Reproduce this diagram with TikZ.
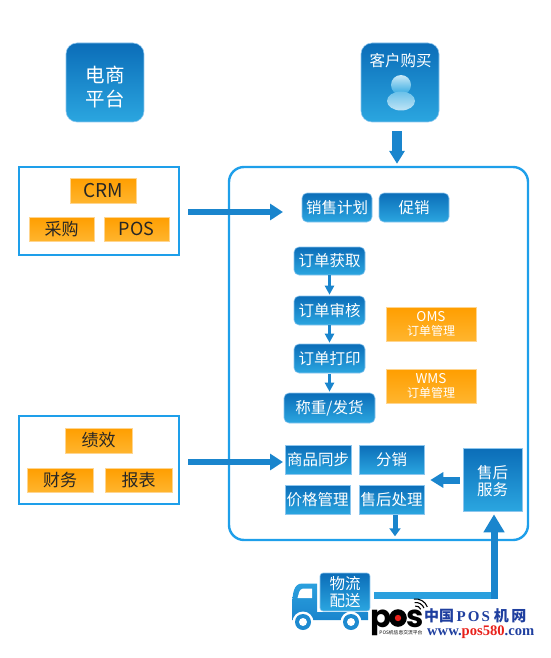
\documentclass[tikz,border=0pt]{standalone}
\usepackage{fontspec}
\setmainfont{Noto Sans CJK SC}
\newfontfamily\logosans{Poppins}[BoldFont=Poppins Bold]
\newfontfamily\logoserif{Liberation Serif}
\usetikzlibrary{arrows.meta,calc}
\definecolor{btop}{HTML}{0B6DB8}
\definecolor{bbot}{HTML}{2BA6E0}
\definecolor{bline}{HTML}{8CC6EE}
\definecolor{otop}{HTML}{FF9E00}
\definecolor{obot}{HTML}{FFB52E}
\definecolor{oline}{HTML}{FFD58F}
\definecolor{frame}{HTML}{1E9FEA}
\definecolor{arrowc}{HTML}{1A85CD}
\definecolor{armlight}{HTML}{2BA0DE}
\definecolor{logoblue}{HTML}{1F3F9F}
\definecolor{logored}{HTML}{E8201A}
\newcommand{\fs}[1]{\fontsize{#1}{#1}\selectfont}
\tikzset{
  x=1pt,y=1pt,
  bluebox/.style={draw=bline,line width=.6pt,top color=btop,bottom color=bbot,text=white,inner sep=0pt,align=center,font=\fs{15.5}},
  roundbox/.style={bluebox,rounded corners=5pt},
  bigbox/.style={bluebox,rounded corners=11pt},
  orangebox/.style={draw=oline,line width=.6pt,top color=otop,bottom color=obot,inner sep=0pt,align=center,text=black!85,font=\fs{17}},
  framebox/.style={draw=frame,line width=2.4pt,fill=white,inner sep=0pt},
  bigarrow/.style={draw=arrowc,line width=6pt,-{Triangle[length=13pt,width=16pt]}},
  midarrow/.style={draw=arrowc,line width=7pt,-{Triangle[length=13pt,width=15pt]}},
  smallarrow/.style={draw=arrowc,line width=3.6pt,-{Triangle[length=9pt,width=9pt]}},
  downarrow/.style={draw=arrowc,line width=5pt,-{Triangle[length=8pt,width=11pt]}},
  truckblue/.style={top color=armlight,bottom color=arrowc},
}
\begin{document}
\begin{tikzpicture}
\useasboundingbox (0,0) rectangle (550,-658);

% top boxes
\node[bigbox,minimum width=78,minimum height=79] (shop) at (105,-82.5) {};
\node[text=white,inner sep=0pt,align=center,font=\fs{19.5}] (shopt) at (105,-87) {电商\\[4.5pt]平台};
\node[bigbox,minimum width=78,minimum height=79] (cust) at (400,-82.5) {};
\node[text=white,inner sep=0pt,font=\fs{15.5}] (custt) at (400.5,-60.5) {客户购买};
\shade[top color=white!75!bbot,bottom color=bbot] (401,-85) circle (10);
\shade[top color=bbot!70!white,bottom color=white!70!bbot] (401,-101) ellipse (14 and 9.5);

% main panel
\node[framebox,rounded corners=15pt,fill=none,minimum width=299,minimum height=373] (panel) at (378.5,-353.5) {};

% left frames
\node[framebox,minimum width=160,minimum height=88] (sysa) at (99,-211) {};
\node[framebox,minimum width=160,minimum height=88] (sysb) at (99,-460) {};
\node[orangebox,minimum width=66,minimum height=25,font=\fs{19}] (crm) at (103,-190.5) {CRM};
\node[orangebox,minimum width=65,minimum height=24] (buy) at (61.5,-229) {采购};
\node[orangebox,minimum width=65,minimum height=24,font=\fs{18}] (pos) at (136.5,-229) {POS};
\node[orangebox,minimum width=67,minimum height=25] (perf) at (98.5,-440.5) {绩效};
\node[orangebox,minimum width=66,minimum height=24] (fin) at (60,-480) {财务};
\node[orangebox,minimum width=67,minimum height=24] (rep) at (138.5,-480) {报表};

% panel content
\node[roundbox,minimum width=70,minimum height=29] (plan) at (337,-207.5) {销售计划};
\node[roundbox,minimum width=70,minimum height=29] (promo) at (414,-207.5) {促销};
\node[roundbox,minimum width=71,minimum height=28] (get) at (329.5,-261) {订单获取};
\node[roundbox,minimum width=71,minimum height=29] (audit) at (329.5,-310.5) {订单审核};
\node[roundbox,minimum width=71,minimum height=29] (print) at (329.5,-358.5) {订单打印};
\node[roundbox,minimum width=91,minimum height=30] (ship) at (329.5,-408) {称重/发货};
\node[orangebox,minimum width=90,minimum height=34,text=white,font=\fs{12}] (oms) at (431,-324) {{\fs{13.5}OMS}\\[1.5pt]订单管理};
\node[orangebox,minimum width=90,minimum height=34,text=white,font=\fs{12}] (wms) at (431,-386) {{\fs{13.5}WMS}\\[1.5pt]订单管理};
\node[bluebox,minimum width=66,minimum height=29] (sync) at (318,-459.5) {商品同步};
\node[bluebox,minimum width=65,minimum height=29] (dist) at (391.5,-459.5) {分销};
\node[bluebox,minimum width=65,minimum height=29] (price) at (317.5,-499.5) {价格管理};
\node[bluebox,minimum width=65,minimum height=29] (after) at (391.5,-499.5) {售后处理};
\node[bluebox,minimum width=59,minimum height=63] (serv) at (492.5,-479.5) {};
\node[text=white,inner sep=0pt,align=center,font=\fs{15.5}] (servt) at (492.5,-481) {售后\\[2pt]服务};

% connectors
\coordinate (a1) at ([yshift=-1pt,xshift=8pt]sysa.east);
\coordinate (a2) at (283,-212);
\coordinate (b1) at ([yshift=-2pt,xshift=8pt]sysb.east);
\coordinate (b2) at (283,-462);
\draw[bigarrow] (a1) -- (a2);
\draw[bigarrow] (b1) -- (b2);
\draw[midarrow,line width=10pt,-{Triangle[length=13pt,width=15pt]}] ([yshift=-9pt,xshift=-3pt]cust.south) -- ([yshift=2pt,xshift=18.5pt]panel.north);
\draw[smallarrow] (get.south) -- ([yshift=1pt]audit.north);
\draw[smallarrow] (audit.south) -- ([yshift=1pt]print.north);
\draw[smallarrow] ([yshift=-1pt]print.south) -- ([yshift=1pt]ship.north);
\draw[midarrow] ([xshift=-3pt,yshift=-.5pt]serv.west) -- ([xshift=6pt,yshift=-.5pt]dist.south east |- serv.west);
\draw[downarrow] ([xshift=3.5pt,yshift=-1pt]after.south) -- ([xshift=3.5pt,yshift=-22pt]after.south);

% truck
\node[bluebox,rounded corners=3pt,minimum width=50,minimum height=38] (truck) at (345,-592) {物流\\[1pt]配送};
\path[truckblue] (317,-583.5) -- (302,-583.5) to[out=180,in=85] (292,-604) -- (292,-620) -- (368,-620) -- (368,-612) -- (317,-612) -- cycle;
\fill[white] (297.5,-598) to[out=70,in=190] (303,-588.5) -- (312,-588.5) -- (312,-598) -- cycle;
\foreach \cx/\nm in {303/wa,351/wb}{
  \fill[white] (\cx,-622) circle (10.5);
  \fill[arrowc!80!armlight] (\cx,-622) circle (8);
  \fill[white] (\cx,-622) circle (4);
}

% elbow to after-sales
\coordinate (e0) at ([xshift=4pt,yshift=-3pt]truck.east);
\coordinate (e1) at ([xshift=1.5pt]serv.south |- e0);
\draw[draw=armlight,line width=7pt] (e0) -- ([xshift=3.5pt]e1);
\draw[draw=arrowc,line width=7pt,-{Triangle[length=18pt,width=20pt]}] ([yshift=-3.5pt]e1) -- ([xshift=1.5pt,yshift=-3pt]serv.south);

% logo
\node[inner sep=0pt,anchor=base west,font=\logosans\bfseries\fs{31}] (logo) at (370.5,-627) {p\hspace{14.5pt}s};
\fill[black] (398,-618) circle (8.8);
\fill[logored] (398,-618) circle (3.2);
\foreach \r in {5,8.5,12}{\draw[black,line width=1.1pt] ($(416,-611)+(20:\r)$) arc (20:100:\r);}
\node[inner sep=0pt,font=\fs{4.8}] (logot) at (401,-633) {POS机信息交流平台};
\node[inner sep=0pt,anchor=west,text=logoblue,font=\bfseries\fs{15}] (cnt) at (424,-615.5) {中国\hspace{2.5pt}\logoserif\bfseries P\hspace{2pt}O\hspace{2pt}S\hspace{4pt}\normalfont\bfseries 机\hspace{2.5pt}网};
\node[inner sep=0pt,anchor=west,text=logoblue,font=\logoserif\bfseries\fs{14.6}] (url) at (427,-632.5) {www.\textcolor{logored}{pos580}.com};
\end{tikzpicture}
\end{document}
